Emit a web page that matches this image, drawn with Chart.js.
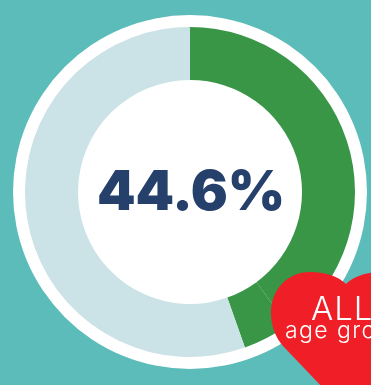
<!DOCTYPE html>
<html>
<head>
<meta charset="utf-8">
<script src="https://cdn.jsdelivr.net/npm/chart.js@4/dist/chart.umd.min.js"></script>
<style>
  html, body { margin: 0; padding: 0; background: #5bbcb9; }
  #stage { position: relative; width: 371px; height: 385px; overflow: hidden; }
  #stage canvas { position: absolute; left: 0; top: 0; }
  #heart { position: absolute; left: 0; top: 0; }
  .label { position: absolute; white-space: nowrap; line-height: 1; }
  #share { left: 97px; top: 157px; font: 900 55px Inter, sans-serif; color: #24406b; letter-spacing: -0.1px; }
  #all { left: 311px; top: 288px; font: 300 33px Inter, sans-serif; color: #fff; letter-spacing: 1px; }
  #ages { left: 285px; top: 316px; font: 300 23px Inter, sans-serif; color: #fff; letter-spacing: 1.4px; }
</style>
</head>
<body>
<div id="stage">
  <canvas id="ring" width="371" height="385"></canvas>
  <svg id="heart" width="371" height="385" viewBox="0 0 371 385">
    <path fill="#f01f27" d="M346 284 C338 276 325 272 310 272 C287 272 271 290 271 313 C271 325 275 337 283 346 L346 412 L409 346 C417 337 421 325 421 313 C421 290 405 272 382 272 C367 272 354 276 346 284 Z"/>
  </svg>
  <div class="label" id="share">44.6%</div>
  <div class="label" id="all">ALL</div>
  <div class="label" id="ages">age groups</div>
</div>
<script>
// Share of the whole, split into the two green runs and the remainder.
const categories = ['Part one', 'Part two', 'Remainder'];
const shareValues = [39.9, 4.7, 55.4];
const sliceColors = ['#3a9647', '#3a9647', '#cbe2e6'];

// White backing disc that shows as a rim around the ring and fills its hole.
const backingDisc = {
  id: 'backingDisc',
  beforeDatasetsDraw(chart) {
    const arc = chart.getDatasetMeta(0).data[0];
    const ctx = chart.ctx;
    ctx.save();
    ctx.fillStyle = '#ffffff';
    ctx.beginPath();
    ctx.arc(arc.x, arc.y, chart.getDatasetMeta(0).controller.outerRadius + 12, 0, Math.PI * 2);
    ctx.fill();
    ctx.restore();
  }
};

new Chart(document.getElementById('ring'), {
  type: 'doughnut',
  data: {
    labels: categories,
    datasets: [{ data: shareValues, backgroundColor: sliceColors, borderWidth: 0 }]
  },
  options: {
    responsive: false,
    animation: false,
    cutout: 112,
    layout: { padding: { left: 25, right: 16, top: 27, bottom: 28 } },
    plugins: { legend: { display: false }, tooltip: { enabled: false } }
  },
  plugins: [backingDisc]
});
</script>
</body>
</html>
